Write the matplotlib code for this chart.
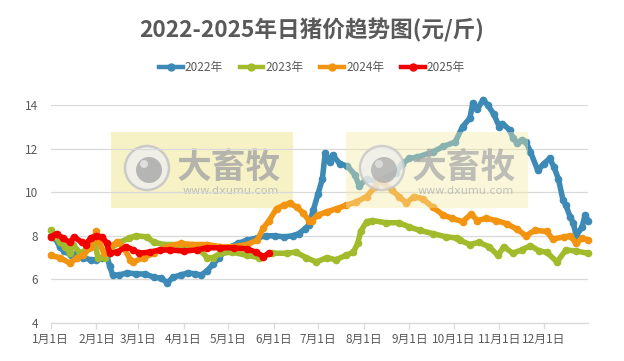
import matplotlib
matplotlib.use("Agg")
import matplotlib.pyplot as plt
from matplotlib.patches import Rectangle, Ellipse
from matplotlib.lines import Line2D

plt.rcParams['font.family'] = ['Noto Sans CJK SC', 'DejaVu Sans']

title = "2022-2025年日猪价趋势图(元/斤)"
tick_days = [0, 31, 59, 90, 120, 151, 181, 212, 243, 273, 304, 334]
tick_labels = ["1月1日", "2月1日", "3月1日", "4月1日", "5月1日", "6月1日",
               "7月1日", "8月1日", "9月1日", "10月1日", "11月1日", "12月1日"]
y_ticks = [4, 6, 8, 10, 12, 14]

days_2022 = [0, 3, 6, 9, 14, 18, 22, 27, 31, 35, 38, 40, 42, 46, 52, 58, 64, 70, 75, 79,
             83, 88, 93, 98, 102, 106, 110, 114, 118, 122, 127, 133, 140, 146, 152, 158,
             164, 168, 172, 175, 178, 181, 184, 186, 189, 191, 196, 201, 206, 209, 214,
             221, 228, 234, 238, 243, 248, 259, 266, 274, 279, 284, 286, 289, 293, 296,
             300, 304, 306, 311, 313, 316, 319, 322, 325, 330, 334, 338, 341, 344, 347,
             349, 352, 354, 356, 360, 362, 364]
vals_2022 = [8.0, 7.9, 7.5, 7.3, 7.1, 7.2, 7.0, 6.9, 6.9, 7.0, 7.1, 6.6, 6.2, 6.2, 6.3, 6.25,
             6.25, 6.1, 6.05, 5.85, 6.1, 6.2, 6.3, 6.25, 6.2, 6.4, 6.7, 7.0, 7.3, 7.5, 7.65,
             7.8, 7.9, 8.0, 8.0, 7.95, 8.0, 8.1, 8.3, 8.5, 9.2, 9.9, 10.6, 11.8, 11.4, 11.7,
             11.3, 11.2, 10.8, 10.3, 10.6, 10.5, 10.7, 10.9, 11.3, 11.55, 11.6, 11.85, 12.1,
             12.3, 13.0, 13.4, 14.1, 13.8, 14.25, 14.0, 13.6, 13.0, 13.15, 12.85, 12.5,
             12.25, 12.4, 12.3, 11.85, 11.0, 11.3, 11.55, 11.15, 10.6, 9.65, 9.4, 8.85,
             8.6, 8.0, 8.4, 8.95, 8.7]

days_2023 = [0, 3, 6, 10, 13, 15, 20, 26, 30, 32, 37, 41, 47, 53, 58, 65, 70, 77, 87, 96,
             101, 106, 110, 115, 123, 133, 141, 150, 160, 166, 173, 180, 187, 193, 200,
             205, 208, 210, 214, 218, 227, 236, 243, 250, 259, 268, 275, 277, 284, 290,
             297, 303, 307, 313, 319, 325, 331, 336, 343, 349, 356, 364]
vals_2023 = [8.25, 8.0, 7.7, 7.5, 7.2, 7.6, 7.2, 7.45, 7.65, 7.0, 7.0, 7.45, 7.7, 7.9, 8.0,
             7.95, 7.7, 7.6, 7.6, 7.45, 7.35, 7.0, 7.0, 7.2, 7.25, 7.1, 7.0, 7.2, 7.2, 7.25,
             7.0, 6.8, 7.0, 6.9, 7.1, 7.25, 7.65, 8.2, 8.65, 8.7, 8.6, 8.6, 8.4, 8.25, 8.1,
             7.95, 7.9, 7.8, 7.6, 7.7, 7.5, 7.1, 7.5, 7.2, 7.35, 7.55, 7.3, 7.25, 6.8, 7.35,
             7.3, 7.2]

days_2024 = [0, 6, 13, 18, 22, 27, 31, 33, 36, 40, 45, 49, 54, 56, 63, 70, 79, 88, 96, 106,
             115, 124, 133, 140, 144, 148, 153, 158, 162, 167, 171, 175, 177, 181, 187,
             194, 200, 207, 214, 220, 223, 226, 231, 236, 241, 246, 252, 259, 266, 272,
             279, 285, 289, 295, 302, 309, 316, 322, 328, 336, 340, 348, 352, 356, 360, 364]
vals_2024 = [7.1, 7.0, 6.75, 7.0, 7.1, 7.5, 8.2, 7.7, 7.2, 7.5, 7.7, 7.5, 6.9, 6.8, 7.0, 7.2,
             7.5, 7.65, 7.6, 7.6, 7.5, 7.5, 7.6, 7.8, 8.35, 8.7, 9.25, 9.4, 9.5, 9.3, 9.05,
             8.7, 8.7, 8.95, 9.1, 9.25, 9.4, 9.55, 9.8, 10.25, 10.55, 10.4, 10.1, 9.8, 9.5,
             9.8, 9.7, 9.3, 8.95, 8.8, 8.65, 9.0, 8.7, 8.8, 8.7, 8.55, 8.3, 8.0, 8.25, 8.2,
             7.85, 7.95, 8.0, 7.65, 7.9, 7.8]

days_2025 = [0, 4, 8, 13, 16, 21, 24, 27, 31, 35, 38, 40, 45, 51, 56, 60, 67, 74, 81, 90,
             99, 106, 115, 124, 133, 139, 144, 148]
vals_2025 = [7.95, 8.1, 7.9, 7.7, 7.95, 7.7, 7.6, 7.9, 8.0, 7.95, 7.65, 7.2, 7.25, 7.5,
             7.35, 7.2, 7.25, 7.35, 7.35, 7.3, 7.35, 7.45, 7.45, 7.45, 7.4, 7.25, 7.05, 7.2]

series = [("2022年", days_2022, vals_2022, "#3D8AB7"),
          ("2023年", days_2023, vals_2023, "#A2BB2C"),
          ("2024年", days_2024, vals_2024, "#F39410"),
          ("2025年", days_2025, vals_2025, "#F20000")]

W, H = 624, 361
fig = plt.figure(figsize=(W / 100, H / 100), dpi=100)
ax = fig.add_axes([50.7 / W, 1 - 323 / H, (588 - 50.7) / W, (323 - 105) / H])

def fx(px):
    return px / W

def fy(py):
    return 1 - py / H

def watermark(x0, z, fc, alpha, ga):
    y0, w, h = 132, 182, 76
    ax.add_artist(Rectangle((fx(x0), fy(y0 + h)), w / W, h / H, transform=fig.transFigure,
                            facecolor=fc, edgecolor="none", alpha=alpha, zorder=z,
                            clip_on=False))
    cx, cy = x0 + 36, 168
    ax.add_artist(Ellipse((fx(cx), fy(cy)), 44 / W, 44 / H, transform=fig.transFigure,
                          facecolor="#EEEEEE", edgecolor="#C4C4C4", lw=1.8, alpha=ga,
                          zorder=z + 0.01, clip_on=False))
    ax.add_artist(Ellipse((fx(cx + 2), fy(cy + 2)), 26 / W, 26 / H, transform=fig.transFigure,
                          facecolor="#ABABAB", edgecolor="none", alpha=ga,
                          zorder=z + 0.02, clip_on=False))
    ax.add_artist(Ellipse((fx(cx - 3), fy(cy - 4)), 8 / W, 8 / H, transform=fig.transFigure,
                          facecolor="#E6E6E6", edgecolor="none", alpha=ga,
                          zorder=z + 0.03, clip_on=False))
    ax.text(fx(x0 + 118), fy(167), "大畜牧", transform=fig.transFigure, ha="center",
            va="center", fontsize=25, fontweight="bold", color="#A9A9A9", alpha=ga,
            zorder=z + 0.04, clip_on=False)
    ax.text(fx(x0 + 120), fy(191), "www.dxumu.com", transform=fig.transFigure,
            ha="center", va="center", fontsize=8, color="#B3B3B3", alpha=ga,
            family="DejaVu Sans", zorder=z + 0.04, clip_on=False)

watermark(111, 0.2, "#F7F2C6", 1.0, 0.85)
watermark(346, 4, "#F2EAA8", 0.42, 0.75)

for name, d, v, c in series:
    ax.plot(d, v, color=c, lw=4, marker="o", ms=4.5, mec=c, mfc=c,
            solid_joinstyle="round", solid_capstyle="round", label=name,
            zorder=2, clip_on=False)

ax.set_xlim(0, 364)
ax.set_ylim(4, 14)
ax.set_yticks(y_ticks)
ax.set_xticks(tick_days)
ax.set_xticklabels(tick_labels)
ax.set_axisbelow(True)
ax.grid(axis="y", color="#D9D9D9", lw=0.9, zorder=0.5)
for s in ["top", "right", "left"]:
    ax.spines[s].set_visible(False)
ax.spines["bottom"].set_color("#D9D9D9")
ax.spines["bottom"].set_linewidth(0.9)
ax.tick_params(axis="y", length=0, pad=9, labelsize=8.5, labelcolor="#595959")
ax.tick_params(axis="x", length=4, width=0.9, color="#D9D9D9", pad=3,
               labelsize=8.5, labelcolor="#595959")

fig.text(0.5, fy(30), title, ha="center", va="center", fontsize=16.3, fontweight="bold",
         color="#595959")

handles = [Line2D([], [], color=c, lw=3.2, marker="o", ms=5) for _, _, _, c in series]
fig.legend(handles, [s[0] for s in series], loc="center", bbox_to_anchor=(0.5, fy(68)),
           ncol=4, frameon=False, fontsize=8.5, handlelength=2.0, columnspacing=1.4,
           handletextpad=0.2, labelcolor="#595959")

fig.savefig("out.png", dpi=100, facecolor="white")
